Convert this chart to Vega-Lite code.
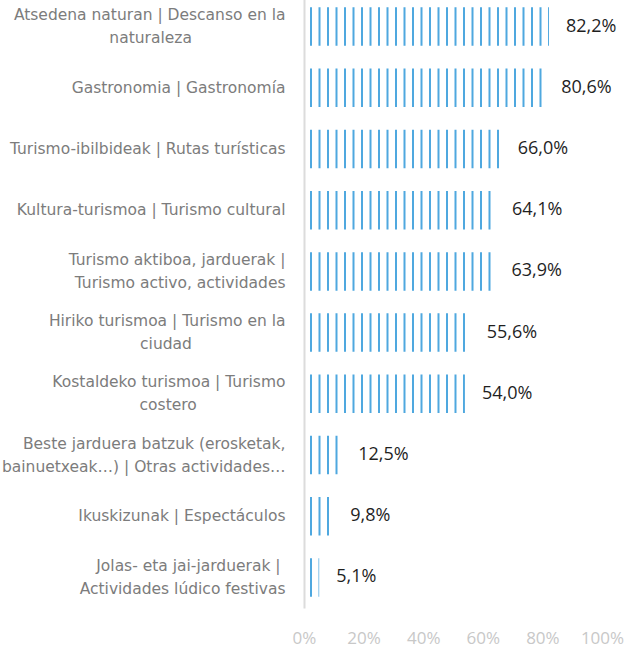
{
  "$schema": "https://vega.github.io/schema/vega-lite/v6.json",
  "autosize": {"type": "none"},
  "padding": {"left": 304, "top": -4, "right": 23, "bottom": 42},
  "width": 298,
  "height": 612,
  "config": {
    "view": {"stroke": null},
    "locale": {"number": {"decimal": ",", "thousands": ".", "grouping": [3], "currency": ["", " €"]}},
    "font": "Open Sans"
  },
  "data": {"values": [
    {"actividad": "Atsedena naturan | Descanso en la\nnaturaleza\u00a0\u00a0\u00a0\u00a0\u00a0\u00a0\u00a0\u00a0\u00a0\u00a0\u00a0\u00a0\u00a0\u00a0\u00a0\u00a0\u00a0\u00a0\u00a0\u200b", "pct": 0.822},
    {"actividad": "Gastronomia | Gastronomía", "pct": 0.806},
    {"actividad": "Turismo-ibilbideak | Rutas turísticas", "pct": 0.660},
    {"actividad": "Kultura-turismoa | Turismo cultural", "pct": 0.641},
    {"actividad": "Turismo aktiboa, jarduerak |\nTurismo activo, actividades", "pct": 0.639},
    {"actividad": "Hiriko turismoa | Turismo en la\nciudad\u00a0\u00a0\u00a0\u00a0\u00a0\u00a0\u00a0\u00a0\u00a0\u00a0\u00a0\u00a0\u00a0\u00a0\u00a0\u00a0\u00a0\u00a0\u00a0\u200b", "pct": 0.556},
    {"actividad": "Kostaldeko turismoa | Turismo\ncostero\u00a0\u00a0\u00a0\u00a0\u00a0\u00a0\u00a0\u00a0\u00a0\u00a0\u00a0\u00a0\u00a0\u00a0\u00a0\u00a0\u00a0\u00a0\u200b", "pct": 0.540},
    {"actividad": "Beste jarduera batzuk (erosketak,\nbainuetxeak…) | Otras actividades…", "pct": 0.125},
    {"actividad": "Ikuskizunak | Espectáculos", "pct": 0.098},
    {"actividad": "Jolas- eta jai-jarduerak |\u00a0\u200b\nActividades lúdico festivas", "pct": 0.051}
  ]},
  "encoding": {
    "y": {
      "field": "actividad", "type": "nominal", "sort": null,
      "scale": {"paddingInner": 0, "paddingOuter": 0},
      "axis": {
        "title": null, "ticks": false, "tickSize": 0,
        "domainColor": "#dcdcdc", "domainWidth": 2,
        "labelExpr": "split(datum.label, '\\n')",
        "labelFont": "DejaVu Sans", "labelFontSize": 15.5, "labelColor": "#7c7c7c",
        "labelLineHeight": 23, "labelPadding": 19, "labelLimit": 320,
        "labelOffset": {"condition": {"test": "indexof(datum.value, '\\n') >= 0", "value": -11.5}, "value": 0},
        "zindex": 1
      }
    }
  },
  "layer": [
    {
      "mark": {"type": "rule", "stroke": "#4fa8df", "strokeWidth": 38.5, "strokeDash": [2, 6.5], "strokeDashOffset": {"expr": "8.0 - scale('x', datum.pct)"}, "strokeCap": "butt"},
      "encoding": {
        "x": {
          "field": "pct", "type": "quantitative",
          "scale": {"domain": [0, 1], "nice": false, "zero": true},
          "axis": {
            "title": null, "domain": false, "grid": false, "ticks": false, "tickSize": 0,
            "values": [0, 0.2, 0.4, 0.6, 0.8, 1], "format": ".0%",
            "labelFont": "Open Sans", "labelFontSize": 17, "labelColor": "#c8c8c8",
            "labelPadding": 30, "labelBaseline": "middle", "labelFlush": false
          }
        },
        "x2": {"datum": 0}
      }
    },
    {
      "mark": {"type": "text", "align": "left", "baseline": "middle", "dx": 17, "fontSize": 18, "font": "Open Sans", "color": "#1f1f1f"},
      "encoding": {
        "x": {"field": "pct", "type": "quantitative"},
        "text": {"field": "pct", "type": "quantitative", "format": ".1%"}
      }
    }
  ]
}
